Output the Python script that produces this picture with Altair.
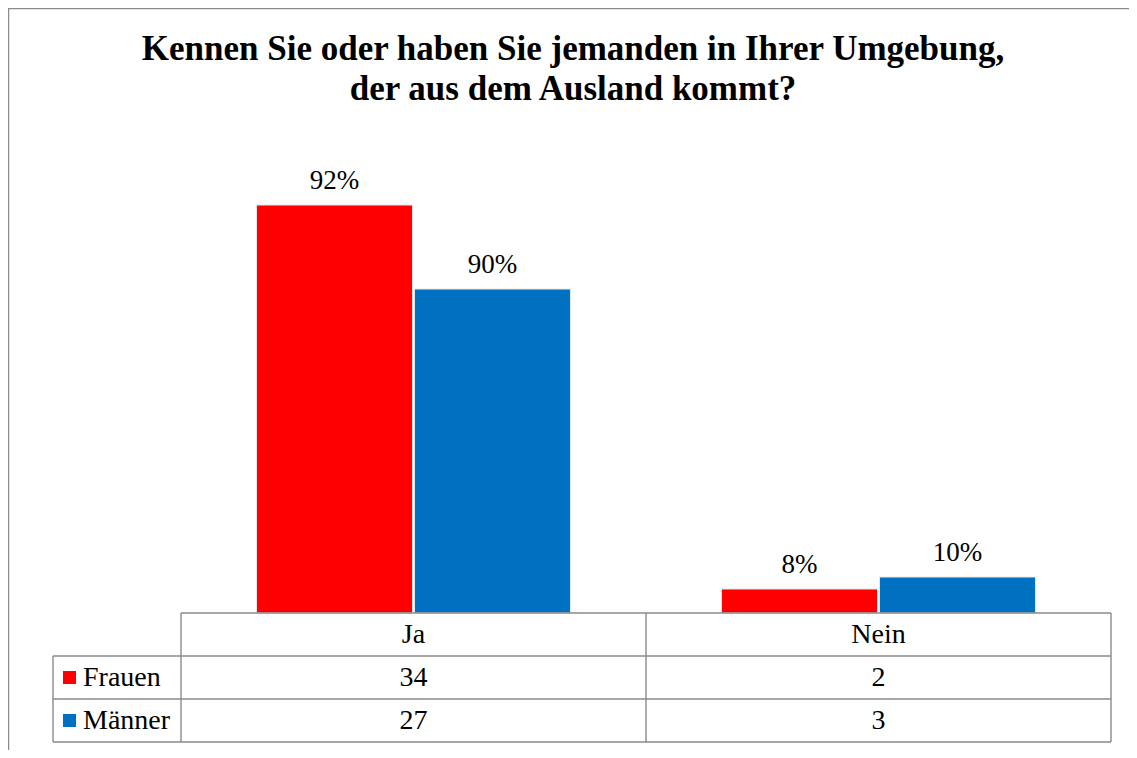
import altair as alt
import pandas as pd

# ---- data ----
categories = ["Ja", "Nein"]
series = ["Frauen", "Männer"]
colors = ["#FF0000", "#0070C0"]
frauen_counts = [34, 2]
maenner_counts = [27, 3]
frauen_pct = ["92%", "8%"]
maenner_pct = ["90%", "10%"]
title_lines = ["Kennen Sie oder haben Sie jemanden in Ihrer Umgebung,",
               "der aus dem Ausland kommt?"]

rows = []
for s, counts, pcts in [(series[0], frauen_counts, frauen_pct),
                        (series[1], maenner_counts, maenner_pct)]:
    for c, n, p in zip(categories, counts, pcts):
        rows.append({"category": c, "series": s, "count": n, "pct": p})
df = pd.DataFrame(rows)
cat_df = pd.DataFrame({"category": categories})
ser_df = pd.DataFrame({"series": series})
one = pd.DataFrame({"k": [0]})

# ---- layout (plot area = data table columns) ----
W, H = 930, 609
BASE = 480          # bar baseline inside plot
ROW = 43
FONT = "Liberation Serif"
GRID = "#8a8a8a"

xenc = alt.X("category:N", scale=alt.Scale(domain=categories, paddingInner=0, paddingOuter=0), axis=None)
xoff = alt.XOffset("series:N", scale=alt.Scale(domain=series, paddingInner=0.0127, paddingOuter=0.478))
yenc = alt.Y("count:Q", scale=alt.Scale(domain=[0, 40], range=[BASE, 0], nice=False), axis=None)
cenc = alt.Color("series:N", scale=alt.Scale(domain=series, range=colors), legend=None)

bars = alt.Chart(df).mark_bar(stroke="#e6e6e6", strokeWidth=1).encode(x=xenc, xOffset=xoff, y=yenc, color=cenc)

labels = alt.Chart(df).mark_text(font=FONT, fontSize=27, baseline="alphabetic", dy=-16, color="black").encode(
    x=xenc, xOffset=xoff, y=yenc, text="pct:N")

header = alt.Chart(cat_df).mark_text(font=FONT, fontSize=28, baseline="middle", color="black").encode(
    x=xenc, y=alt.value(BASE + ROW / 2), text="category:N")

layers = [bars, labels, header]
for i, s in enumerate(series):
    yc = BASE + ROW * (i + 1) + ROW / 2
    layers.append(alt.Chart(df).transform_filter(alt.datum.series == s).mark_text(
        font=FONT, fontSize=28, baseline="middle", color="black").encode(
        x=xenc, y=alt.value(yc), text="count:Q"))
    sub = ser_df[ser_df.series == s]
    layers.append(alt.Chart(sub).mark_square(size=169, opacity=1).encode(
        x=alt.value(-111.5), y=alt.value(yc), color=cenc))
    layers.append(alt.Chart(sub).mark_text(font=FONT, fontSize=28, baseline="middle", align="left", color="black").encode(
        x=alt.value(-98), y=alt.value(yc), text="series:N"))

# title (two lines, bold)
title_y = [-73, -33]
for line, ty in zip(title_lines, title_y):
    layers.append(alt.Chart(pd.DataFrame({"t": [line]})).mark_text(
        font=FONT, fontSize=35, fontWeight="bold", baseline="alphabetic", align="center", color="black").encode(
        x=alt.value(392), y=alt.value(ty), text="t:N"))

def rule(x1, x2, y1, y2):
    return alt.Chart(one).mark_rule(color=GRID, strokeWidth=1.4).encode(
        x=alt.value(x1), x2=alt.value(x2), y=alt.value(y1), y2=alt.value(y2))

L = -128
grid = [
    rule(0, W, BASE, BASE),
    rule(L, W, BASE + ROW, BASE + ROW),
    rule(L, W, BASE + 2 * ROW, BASE + 2 * ROW),
    rule(L, W, BASE + 3 * ROW, BASE + 3 * ROW),
    rule(0, 0, BASE, BASE + 3 * ROW),
    rule(W / 2, W / 2, BASE, BASE + 3 * ROW),
    rule(W, W, BASE, BASE + 3 * ROW),
    rule(L, L, BASE + ROW, BASE + 3 * ROW),
]

frame = alt.Chart(one).mark_rect(fill=None, stroke="#8c8c8c", strokeWidth=1.5).encode(
    x=alt.value(-172.5), x2=alt.value(1100), y=alt.value(-124.5), y2=alt.value(720))

chart = alt.layer(frame, *layers, *grid).properties(
    width=W, height=H,
    autosize=alt.AutoSizeParams(type="none"),
    padding={"left": 173, "top": 125, "right": 18, "bottom": 8},
).configure_view(stroke=None)

chart.save("out.html", embed_options={"renderer": "svg", "actions": False})
